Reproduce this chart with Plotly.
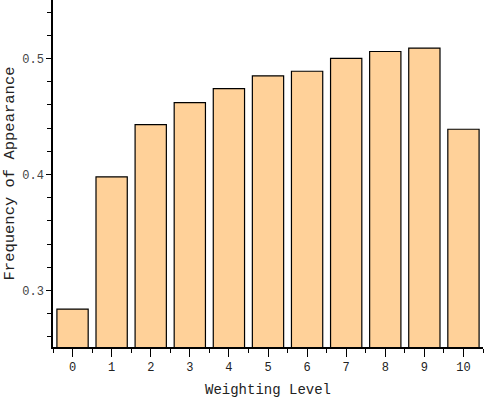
import plotly.graph_objects as go

levels = [0, 1, 2, 3, 4, 5, 6, 7, 8, 9, 10]
frequency = [0.284, 0.398, 0.443, 0.462, 0.474, 0.485, 0.489, 0.500, 0.506, 0.509, 0.439]
tick_labels = [str(v) for v in levels]

FONT = "Liberation Mono"

fig = go.Figure(
    go.Bar(
        x=levels,
        y=frequency,
        width=0.8,
        marker=dict(color="#FFD199", line=dict(color="#000000", width=1.2)),
    )
)

fig.update_layout(
    width=484,
    height=398,
    margin=dict(l=53, r=1, t=0, b=51),
    paper_bgcolor="white",
    plot_bgcolor="white",
    showlegend=False,
    font=dict(family=FONT, color="#222222"),
)

fig.update_xaxes(
    range=[-0.5, 10.5],
    tickmode="array",
    tickvals=levels,
    ticktext=tick_labels,
    ticks="outside",
    ticklen=8,
    tickwidth=1,
    tickcolor="black",
    showline=True,
    linecolor="black",
    linewidth=1.5,
    showgrid=False,
    zeroline=False,
    tickfont=dict(family=FONT, size=12, color="#222222"),
    title=dict(text="Weighting Level", font=dict(family=FONT, size=14, color="#222222"), standoff=11),
    minor=dict(tickmode="linear", tick0=0.5, dtick=1, ticks="outside", ticklen=4, tickcolor="black", showgrid=False),
)

fig.update_yaxes(
    range=[0.2513, 0.5504],
    tickmode="linear",
    tick0=0.3,
    dtick=0.1,
    tickformat=".1f",
    ticks="outside",
    ticklen=5,
    tickwidth=1,
    tickcolor="black",
    showline=True,
    linecolor="black",
    linewidth=1.5,
    showgrid=False,
    zeroline=False,
    tickfont=dict(family=FONT, size=12, color="#444444"),
    title=dict(text="Frequency of Appearance", font=dict(family=FONT, size=15.5, color="#222222"), standoff=4),
    minor=dict(tickmode="linear", tick0=0.3, dtick=0.02, ticks="outside", ticklen=4, tickcolor="black", showgrid=False),
)

fig.write_html(
    "out.html",
    config={"displayModeBar": False},
    post_script="document.body.style.margin='0';document.body.style.overflow='hidden';",
)
